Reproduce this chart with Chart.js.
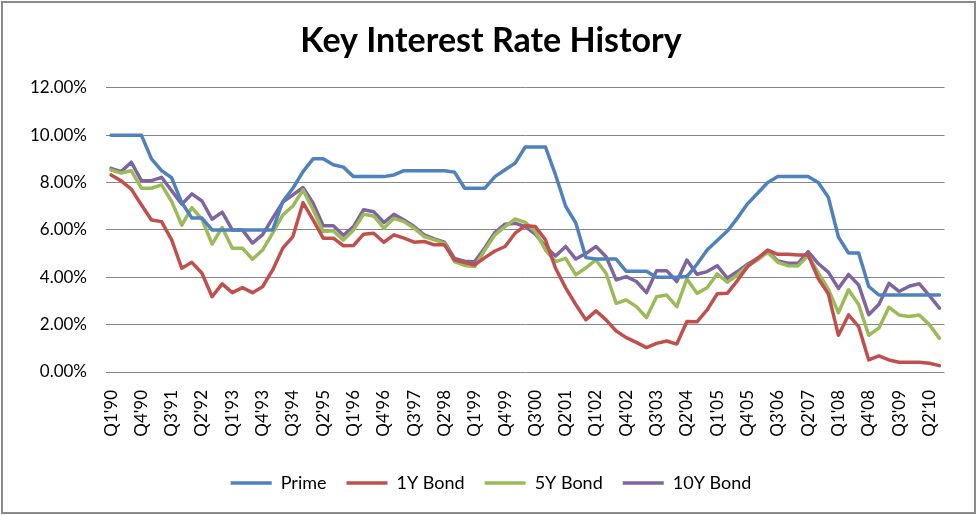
<!DOCTYPE html>
<html>
<head>
<meta charset="utf-8">
<script src="https://cdn.jsdelivr.net/npm/chart.js@4.4.0/dist/chart.umd.min.js"></script>
<style>
	body { margin: 0; background: #fff; }
	#wrap { position: relative; width: 978px; height: 515px; }
	#frame { position: absolute; left: 1px; top: 1px; width: 975px; height: 513px; box-sizing: border-box; border: 2px solid #8a8a8a; pointer-events: none; }
</style>
</head>
<body>
<div id="wrap">
	<canvas id="myChart" width="978" height="515"></canvas>
	<div id="frame"></div>
</div>
<script>
// quarters Q1'90 .. Q3'10
let quarters = [];
for(let y = 1990; y <= 2010; y++){
	for(let q = 1; q <= 4; q++){
		if(y == 2010 && q > 3) break;
		quarters.push("Q" + q + "'" + String(y).slice(2));
	}
}

const yTicks = [0, 2, 4, 6, 8, 10, 12];

const prime = [
	10, 10, 10, 10, 9.0, 8.5, 8.2, 7.15, 6.5, 6.5,
	6.0, 6.0, 6.0, 6.0, 6.0, 6.0, 6.0, 7.2, 7.76, 8.46,
	9.0, 9.0, 8.75, 8.65, 8.25, 8.25, 8.25, 8.25, 8.32, 8.5,
	8.5, 8.5, 8.5, 8.5, 8.44, 7.76, 7.76, 7.76, 8.25, 8.54,
	8.82, 9.5, 9.5, 9.5, 8.32, 7.0, 6.3, 4.83, 4.77, 4.77,
	4.77, 4.25, 4.25, 4.25, 4.0, 4.0, 4.0, 4.03, 4.55, 5.15,
	5.55, 5.95, 6.5, 7.1, 7.55, 8.0, 8.25, 8.25, 8.25, 8.25,
	8.0, 7.38, 5.7, 5.02, 5.02, 3.61, 3.25, 3.25, 3.25, 3.25,
	3.25, 3.25, 3.25
];

const bond1y = [
	8.32, 8.07, 7.72, 7.06, 6.42, 6.35, 5.58, 4.38, 4.63, 4.17,
	3.18, 3.72, 3.35, 3.56, 3.35, 3.6, 4.31, 5.23, 5.72, 7.15,
	6.42, 5.65, 5.65, 5.33, 5.34, 5.82, 5.86, 5.48, 5.79, 5.65,
	5.48, 5.51, 5.37, 5.37, 4.73, 4.62, 4.52, 4.83, 5.11, 5.3,
	5.86, 6.18, 6.14, 5.58, 4.38, 3.55, 2.85, 2.2, 2.58, 2.2,
	1.73, 1.45, 1.25, 1.03, 1.21, 1.31, 1.18, 2.13, 2.12, 2.62,
	3.3, 3.32, 3.86, 4.45, 4.8, 5.15, 4.97, 4.97, 4.94, 4.94,
	3.95, 3.3, 1.55, 2.41, 1.92, 0.51, 0.68, 0.51, 0.41, 0.41,
	0.41, 0.37, 0.27
];

const bond5y = [
	8.53, 8.4, 8.5, 7.76, 7.76, 7.9, 7.2, 6.2, 6.94, 6.45,
	5.4, 6.1, 5.23, 5.23, 4.76, 5.15, 5.86, 6.63, 7.01, 7.69,
	6.85, 5.93, 5.96, 5.57, 6.0, 6.66, 6.59, 6.07, 6.49, 6.35,
	6.07, 5.72, 5.58, 5.44, 4.66, 4.5, 4.45, 5.15, 5.79, 6.14,
	6.46, 6.32, 5.93, 5.15, 4.66, 4.8, 4.1, 4.4, 4.73, 4.17,
	2.9, 3.04, 2.76, 2.3, 3.18, 3.25, 2.76, 3.93, 3.32, 3.56,
	4.14, 3.79, 4.1, 4.49, 4.73, 5.06, 4.63, 4.49, 4.48, 4.92,
	4.2, 3.5, 2.5, 3.47, 2.85, 1.55, 1.85, 2.73, 2.41, 2.34,
	2.41, 2.0, 1.42
];

const bond10y = [
	8.6, 8.46, 8.86, 8.08, 8.08, 8.22, 7.65, 7.08, 7.52, 7.22,
	6.45, 6.75, 6.0, 6.0, 5.44, 5.8, 6.5, 7.17, 7.48, 7.79,
	7.13, 6.18, 6.18, 5.77, 6.14, 6.85, 6.77, 6.31, 6.66, 6.42,
	6.14, 5.79, 5.62, 5.48, 4.8, 4.68, 4.66, 5.25, 5.89, 6.24,
	6.28, 6.14, 5.82, 5.3, 4.9, 5.3, 4.77, 5.0, 5.3, 4.87,
	3.89, 4.03, 3.82, 3.35, 4.28, 4.28, 3.82, 4.73, 4.13, 4.24,
	4.49, 3.96, 4.24, 4.55, 4.8, 5.11, 4.69, 4.59, 4.59, 5.08,
	4.58, 4.22, 3.53, 4.12, 3.68, 2.42, 2.85, 3.74, 3.4, 3.62,
	3.73, 3.22, 2.7
];

const seriesNames = ["Prime", "1Y Bond", "5Y Bond", "10Y Bond"];
const seriesColors = ["#4f81bd", "#c0504d", "#9bbb59", "#8064a2"];

function makeDataset(i, values){
	return {
		label: seriesNames[i],
		data: values,
		borderColor: seriesColors[i],
		backgroundColor: seriesColors[i],
		borderWidth: 3.5,
		pointRadius: 0,
		tension: 0,
		fill: false,
		borderJoinStyle: "round",
		borderCapStyle: "round"
	};
}

const font = "Lato, 'Open Sans', sans-serif";
const ctx = document.getElementById('myChart').getContext('2d');

let chart = new Chart(ctx, {
	type: "line",
	data: {
		labels: quarters,
		datasets: [
			makeDataset(0, prime),
			makeDataset(1, bond1y),
			makeDataset(2, bond5y),
			makeDataset(3, bond10y)
		]
	},
	options: {
		responsive: false,
		animation: false,
		layout: { padding: { left: 28, right: 24, top: 0, bottom: 13 } },
		plugins: {
			title: {
				display: true,
				text: "Key Interest Rate History",
				color: "#000",
				font: { family: font, size: 34, weight: "bold" },
				padding: { top: 21, bottom: 26 }
			},
			legend: {
				position: "bottom",
				labels: {
					color: "#000",
					font: { family: font, size: 18 },
					usePointStyle: true,
					pointStyle: "line",
					pointStyleWidth: 41,
					padding: 20
				}
			},
			tooltip: { enabled: false }
		},
		scales: {
			x: {
				offset: true,
				grid: { display: false, drawTicks: false },
				border: { display: false },
				ticks: {
					autoSkip: false,
					minRotation: 90,
					maxRotation: 90,
					padding: 18,
					color: "#000",
					font: { family: font, size: 17 },
					callback: function(v, i){ return i % 3 == 0 ? quarters[i] : ""; }
				},
				afterFit: function(s){ s.height = 82; }
			},
			y: {
				min: 0,
				max: 12,
				grid: { color: "#868686", lineWidth: 1, drawTicks: false },
				border: { display: false },
				afterBuildTicks: function(s){ s.ticks = yTicks.map(v => ({ value: v })); },
				ticks: {
					padding: 19,
					color: "#000",
					font: { family: font, size: 17 },
					callback: function(v){ return v.toFixed(2) + "%"; }
				},
				afterFit: function(s){ s.width = 78; }
			}
		}
	}
});
</script>
</body>
</html>
